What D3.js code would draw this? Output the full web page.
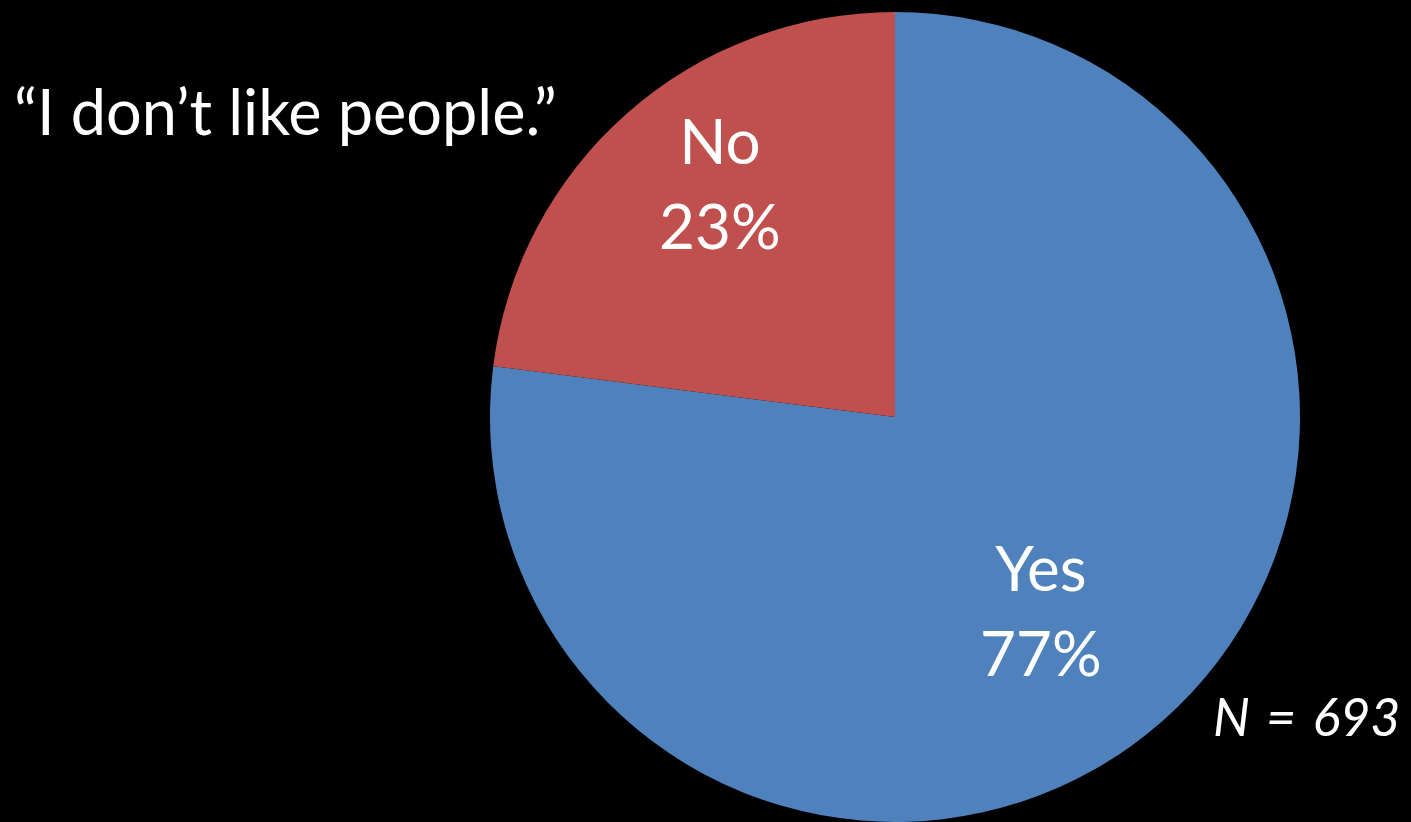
<!DOCTYPE html>
<html>
<head>
<meta charset="utf-8">
<script src="https://cdn.jsdelivr.net/npm/d3@7"></script>
<style>
  html, body { margin: 0; padding: 0; background: #000; overflow: hidden; }
  text { font-family: Lato, "Open Sans", sans-serif; fill: #fff; }
</style>
</head>
<body>
<div class="pieChart"></div>
<script>
// chart data
var categories = ["Yes", "No"];
var percents = [77, 23];
var sliceColors = ["#4F81BD", "#C0504D"];
var title = "\u201CI don\u2019t like people.\u201D";
var sampleNote = "N = 693";

function init() {
    var w = 1411;
    var h = 822;
    var cx = 895, cy = 417, r = 405;

    var svg = d3.select(".pieChart")
        .append("svg")
        .attr("width", w)
        .attr("height", h);

    var data = categories.map(function(c, i) {
        return { name: c, value: percents[i], color: sliceColors[i] };
    });

    var pie = d3.pie()
        .sort(null)
        .value(function(d) { return d.value; });

    var arc = d3.arc().innerRadius(0).outerRadius(r);

    var g = svg.append("g")
        .attr("transform", "translate(" + cx + "," + cy + ")");

    var arcs = pie(data);

    g.selectAll("path")
        .data(arcs)
        .enter().append("path")
        .attr("d", arc)
        .attr("fill", function(d) { return d.data.color; });

    // label distance from centre, as a share of the radius (Excel "best fit" look)
    var labelK = { Yes: 0.60, No: 0.72 };
    var labelTurn = 4.5 * Math.PI / 180; // labels sit a bit clockwise of the slice middle

    var labels = g.selectAll(".lbl")
        .data(arcs)
        .enter().append("g")
        .attr("class", "lbl")
        .attr("transform", function(d) {
            var k = labelK[d.data.name] * r;
            var c = d3.arc().innerRadius(k).outerRadius(k)
                .centroid({ startAngle: d.startAngle + labelTurn, endAngle: d.endAngle + labelTurn });
            return "translate(" + c[0] + "," + c[1] + ")";
        });

    labels.append("text")
        .attr("text-anchor", "middle")
        .attr("y", -20)
        .style("font-size", "62px")
        .text(function(d) { return d.data.name; });

    labels.append("text")
        .attr("text-anchor", "middle")
        .attr("y", 65)
        .style("font-size", "62px")
        .text(function(d) { return d.data.value + "%"; });

    // title
    svg.append("text")
        .attr("x", 14)
        .attr("y", 135)
        .style("font-size", "63px")
        .text(title);

    // sample size
    svg.append("text")
        .attr("x", 1213)
        .attr("y", 736)
        .style("font-size", "52px")
        .style("font-style", "italic")
        .style("word-spacing", "4px")
        .text(sampleNote);
}

window.onload = init;
</script>
</body>
</html>
